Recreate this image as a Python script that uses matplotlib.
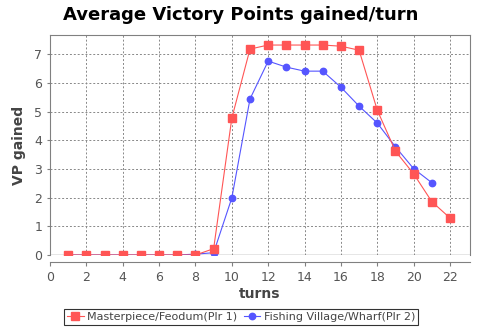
import matplotlib.pyplot as plt

turns_p1 = list(range(1, 23))
vp_p1 = [0, 0, 0, 0, 0, 0, 0, 0, 0.22, 4.77, 7.18, 7.32, 7.32, 7.32, 7.32, 7.28,
         7.14, 5.05, 3.62, 2.83, 1.86, 1.29]
turns_p2 = list(range(1, 22))
vp_p2 = [0, 0, 0, 0, 0, 0, 0, 0.03, 0.08, 1.99, 5.44, 6.76, 6.55, 6.41, 6.41, 5.85,
         5.19, 4.60, 3.77, 3.01, 2.52]
label_p1 = 'Masterpiece/Feodum(Plr 1)'
label_p2 = 'Fishing Village/Wharf(Plr 2)'

fig = plt.figure(figsize=(4.82, 3.29), dpi=100, facecolor='white')
ax = fig.add_axes([50 / 482, 1 - 255 / 329, 420 / 482, 220 / 329])

l1, = ax.plot(turns_p1, vp_p1, '-s', color='#ff5555', lw=0.8, ms=5.2, label=label_p1, zorder=3)
l2, = ax.plot(turns_p2, vp_p2, '-o', color='#5555ff', lw=0.8, ms=4.6, label=label_p2, zorder=2)
# clip markers sitting on the zero line like the original
for ln in (l1, l2):
    ln.set_clip_path(ax.patch)

ax.set_xlim(0, 23.1)
ax.set_ylim(0, 7.67)
ax.set_xticks(range(0, 23, 2))
ax.set_yticks(range(0, 8))

ax.grid(True, color='#888888', linestyle=(0, (2, 2)), linewidth=0.7)
ax.set_axisbelow(True)

for s in ['top', 'right', 'left']:
    ax.spines[s].set_color('#808080')
ax.spines['bottom'].set_position(('outward', 5))
ax.spines['bottom'].set_color('#808080')
ax.axhline(0, color='#808080', lw=1, zorder=1)
ax.tick_params(axis='x', colors='#808080', labelcolor='#555555', labelsize=9, length=3, width=0.8)
ax.tick_params(axis='y', colors='#808080', labelcolor='#555555', labelsize=9, length=2, width=0.8)

ax.set_xlabel('turns', fontsize=10, fontweight='bold', color='#444444', labelpad=2)
ax.set_ylabel('VP gained', fontsize=10, fontweight='bold', color='#444444', labelpad=6)
fig.text(0.5, 1 - 15 / 329, 'Average Victory Points gained/turn', ha='center', va='center',
         fontsize=13, fontweight='heavy')

leg = fig.legend(loc='center', bbox_to_anchor=(0.5, 1 - 317 / 329), ncol=2, fontsize=8,
                 frameon=True, fancybox=False, edgecolor='black', handlelength=1.5,
                 handletextpad=0.3, columnspacing=0.6, borderpad=0.3)
leg.get_frame().set_linewidth(0.8)
for t in leg.get_texts():
    t.set_color('#444444')

fig.savefig('out.png', dpi=100, facecolor='white')
